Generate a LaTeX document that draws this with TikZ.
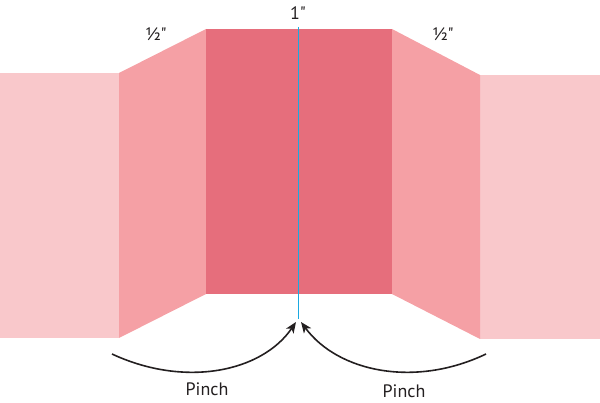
\documentclass[tikz,border=0pt]{standalone}
\usepackage{fontspec}
\newfontfamily\labelfont{PT Sans}
\usetikzlibrary{arrows.meta}
\definecolor{pinkL}{HTML}{F9C8CB}
\definecolor{pinkM}{HTML}{F5A0A5}
\definecolor{pinkD}{HTML}{E66E7C}
\definecolor{cyanL}{HTML}{1BA9E1}
\definecolor{inkD}{HTML}{231F20}
\tikzset{
  lbl/.style={font=\labelfont\fontsize{18}{20}\selectfont, text=inkD, inner sep=0pt},
  pinchlbl/.style={font=\labelfont\fontsize{18}{20}\selectfont, text=inkD, inner sep=0pt},
  pincharrow/.style={draw=inkD, line width=1.6pt, -{Stealth[length=11pt,width=9pt,inset=3pt]}}
}
\begin{document}
\begin{tikzpicture}[x=1pt,y=-1pt]
\useasboundingbox (0,0) rectangle (600,403);
% panels
\fill[pinkL] (0,73) rectangle (119,338);
\fill[pinkL] (480,75) rectangle (600,339);
\fill[pinkM] (119,73) -- (206,29) -- (206,294) -- (119,338) -- cycle;
\fill[pinkM] (392,29) -- (480,75) -- (480,339) -- (392,294) -- cycle;
\fill[pinkD] (206,29) rectangle (392,294);
% center line
\draw[cyanL, line width=1.8pt] (298.5,27) -- (298.5,319);
% labels
\node[lbl] (half1) at (156,34) {½"};
\node[lbl] (half2) at (443,34) {½"};
\node[lbl] (one) at (298,13) {1"};
\node[pinchlbl] (p1) at (207,389) {Pinch};
\node[pinchlbl] (p2) at (404,391) {Pinch};
% arrows
\coordinate (aL) at (112,354);
\coordinate (aR) at (486,354);
\coordinate (tL) at (296,322);
\coordinate (tR) at (301,322);
\draw[pincharrow] (aL) .. controls (185,388) and (262,372) .. (tL);
\draw[pincharrow] (aR) .. controls (415,388) and (338,372) .. (tR);
\end{tikzpicture}
\end{document}
